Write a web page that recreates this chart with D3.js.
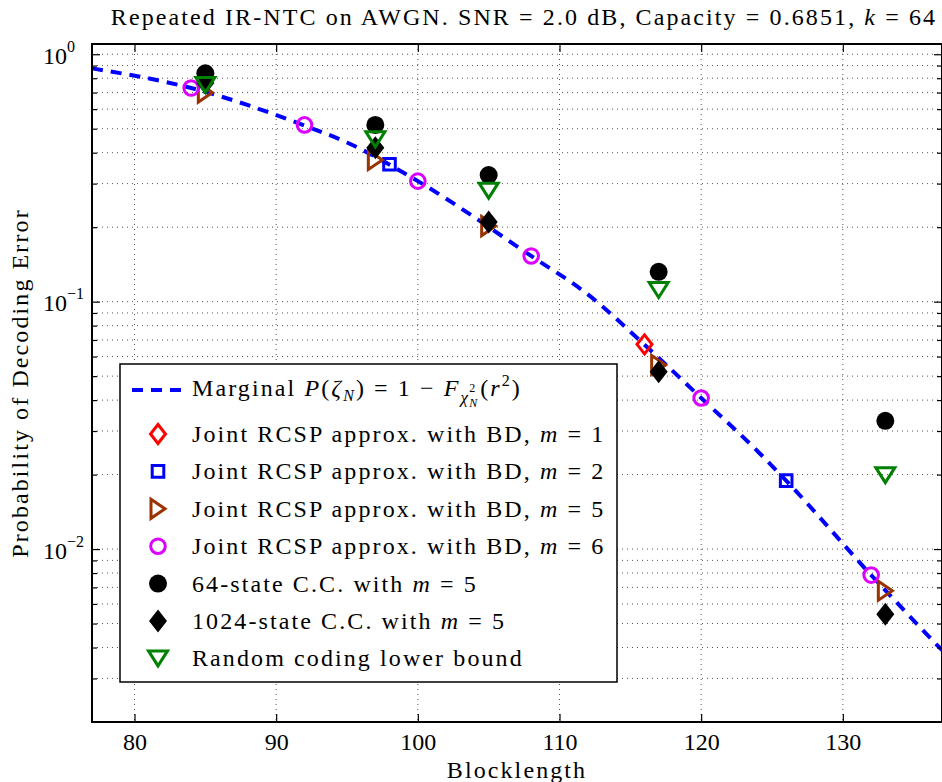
<!DOCTYPE html>
<html>
<head>
<meta charset="utf-8">
<script src="https://cdn.jsdelivr.net/npm/d3@7"></script>
<style>
  html, body { margin: 0; padding: 0; background: #fff; }
  svg text { font-family: "Liberation Serif", "Times New Roman", serif; fill: #000; }
  svg text.wide { letter-spacing: 2.1px; }
</style>
</head>
<body>
<div id="container"></div>
<script>
const width = 942, height = 782;
const plotL = 92, plotR = 942, plotT = 44, plotB = 722;

// --- Data ---
const xTicks = [80, 90, 100, 110, 120, 130];
const yMajor = [1, 0.1, 0.01];
const yLabels = ["0", "\u22121", "\u22122"];

// marginal curve
const curveX = [77, 84, 92, 95, 100, 108, 112, 116, 120, 124, 126, 132, 137];
const curveP = [0.877, 0.73, 0.515, 0.44, 0.307, 0.153, 0.107, 0.067, 0.0408, 0.0248, 0.0189, 0.00785, 0.0039];

// joint RCSP approx. with BD
const m1X = [116];
const m1P = [0.0672];
const m2X = [98, 126];
const m2P = [0.359, 0.0189];
const m5X = [85, 97, 105, 117, 133];
const m5P = [0.70, 0.374, 0.202, 0.0555, 0.00679];
const m6X = [84, 92, 100, 108, 120, 132];
const m6P = [0.73, 0.518, 0.307, 0.153, 0.0408, 0.00785];

// convolutional codes and bound
const cc64X = [85, 97, 105, 117, 133];
const cc64P = [0.837, 0.518, 0.325, 0.132, 0.033];
const cc1024X = [85, 97, 105, 117, 133];
const cc1024P = [0.765, 0.419, 0.21, 0.0521, 0.00545];
const rcX = [85, 97, 105, 117, 133];
const rcP = [0.751, 0.453, 0.281, 0.1114, 0.0199];

// --- SVG ---
const svg = d3.select("#container").append("svg")
  .attr("width", width).attr("height", height);

const x = d3.scaleLinear().domain([77, 137]).range([plotL, plotR]);
const y = d3.scaleLog().domain([0.002, 1.1]).range([plotB, plotT]);

// all log ticks inside the domain
const yAll = [];
for (const dec of [0.001, 0.01, 0.1, 1]) {
  for (let k = 1; k <= 9; k++) {
    const v = +(dec * k).toPrecision(3);
    if (v > 0.002 && v <= 1.1) yAll.push(v);
  }
}
const yMinor = yAll.filter((v) => !yMajor.includes(v));

// --- Grid (dotted) ---
const grid = svg.append("g").attr("stroke", "#555").attr("stroke-width", 1)
  .attr("stroke-dasharray", "1,4");
grid.selectAll(".gx").data(xTicks).join("line")
  .attr("x1", (d) => x(d)).attr("x2", (d) => x(d))
  .attr("y1", plotT).attr("y2", plotB);
grid.selectAll(".gy").data(yAll).join("line")
  .attr("x1", plotL).attr("x2", plotR)
  .attr("y1", (d) => y(d)).attr("y2", (d) => y(d));

// --- Marker shapes ---
const shapes = {
  circle: (r) => `M${-r},0A${r},${r} 0 1,0 ${r},0A${r},${r} 0 1,0 ${-r},0Z`,
  square: (s) => `M${-s},${-s}H${s}V${s}H${-s}Z`,
  diamond: (w, h) => `M0,${-h}L${w},0L0,${h}L${-w},0Z`,
  triDown: (w, h) => `M${-w},${-h}L${w},${-h}L0,${h}Z`,
  triRight: (w, h) => `M${-w},${-h}L${w},0L${-w},${h}Z`,
};

const series = [
  { xs: m1X, ps: m1P, d: shapes.diamond(7.5, 9.5), stroke: "#ff0000", fill: "none" },
  { xs: m2X, ps: m2P, d: shapes.square(5.8), stroke: "#0000ff", fill: "none" },
  { xs: m5X, ps: m5P, d: shapes.triRight(7, 9.5), stroke: "#993300", fill: "none" },
  { xs: m6X, ps: m6P, d: shapes.circle(7.3), stroke: "#dc00ff", fill: "none" },
  { xs: cc64X, ps: cc64P, d: shapes.circle(9), stroke: "none", fill: "#000" },
  { xs: cc1024X, ps: cc1024P, d: shapes.diamond(9, 11.5), stroke: "none", fill: "#000" },
  { xs: rcX, ps: rcP, d: shapes.triDown(9.5, 7.5), stroke: "#008000", fill: "none" },
];

// --- Marginal curve ---
svg.append("clipPath").attr("id", "plotclip")
  .append("rect").attr("x", plotL).attr("y", plotT)
  .attr("width", plotR - plotL).attr("height", plotB - plotT);

const line = d3.line().x((d) => x(d[0])).y((d) => y(d[1])).curve(d3.curveMonotoneX);
svg.append("path")
  .datum(d3.zip(curveX, curveP))
  .attr("clip-path", "url(#plotclip)")
  .attr("fill", "none")
  .attr("stroke", "#0000ff")
  .attr("stroke-width", 4)
  .attr("stroke-dasharray", "11,8")
  .attr("d", line);

// --- Markers ---
for (const s of series) {
  svg.append("g").selectAll("path").data(d3.zip(s.xs, s.ps)).join("path")
    .attr("transform", (d) => `translate(${x(d[0])},${y(d[1])})`)
    .attr("d", s.d)
    .attr("fill", s.fill)
    .attr("stroke", s.stroke)
    .attr("stroke-width", 3);
}

// --- Axes (inward ticks on all four sides) ---
function styleAxis(g) {
  g.select(".domain").remove();
  g.selectAll("line").attr("stroke", "#000").attr("stroke-width", 1.2);
}
svg.append("g").attr("transform", `translate(0,${plotB})`)
  .call(d3.axisBottom(x).tickValues(xTicks).tickSize(-8).tickPadding(11))
  .call(styleAxis)
  .call((g) => g.selectAll("text").style("font-size", "24px")
    .style("font-family", "Liberation Serif").attr("fill", "#000"));
svg.append("g").attr("transform", `translate(0,${plotT})`)
  .call(d3.axisTop(x).tickValues(xTicks).tickSize(-8).tickFormat(""))
  .call(styleAxis);
svg.append("g").attr("transform", `translate(${plotL},0)`)
  .call(d3.axisLeft(y).tickValues(yMajor).tickSize(-8).tickFormat(""))
  .call(styleAxis);
svg.append("g").attr("transform", `translate(${plotL},0)`)
  .call(d3.axisLeft(y).tickValues(yMinor).tickSize(-5).tickFormat(""))
  .call(styleAxis);
svg.append("g").attr("transform", `translate(${plotR},0)`)
  .call(d3.axisRight(y).tickValues(yMajor).tickSize(-8).tickFormat(""))
  .call(styleAxis);
svg.append("g").attr("transform", `translate(${plotR},0)`)
  .call(d3.axisRight(y).tickValues(yMinor).tickSize(-5).tickFormat(""))
  .call(styleAxis);

// frame
svg.append("rect")
  .attr("x", plotL).attr("y", plotT)
  .attr("width", plotR - plotL).attr("height", plotB - plotT)
  .attr("fill", "none").attr("stroke", "#000").attr("stroke-width", 2);

// y tick labels 10^k
yMajor.forEach((v, i) => {
  const t = svg.append("text")
    .attr("x", 43).attr("y", y(v) + 9.5)
    .style("font-size", "24px");
  t.append("tspan").text("10");
  t.append("tspan").attr("dy", -12).style("font-size", "16px").text(yLabels[i]);
});

// --- Axis labels and title ---
svg.append("text").attr("class", "wide")
  .attr("x", (plotL + plotR) / 2).attr("y", 778)
  .attr("text-anchor", "middle").style("font-size", "24px")
  .text("Blocklength");

svg.append("text").attr("class", "wide")
  .attr("transform", "rotate(-90)")
  .attr("x", -(plotT + plotB) / 2).attr("y", 28)
  .attr("text-anchor", "middle").style("font-size", "24px")
  .text("Probability of Decoding Error");

const title = svg.append("text").attr("class", "wide")
  .attr("x", 524).attr("y", 25)
  .attr("text-anchor", "middle").style("font-size", "24px");
title.append("tspan").text("Repeated IR-NTC on AWGN. SNR = 2.0 dB, Capacity = 0.6851, ");
title.append("tspan").style("font-style", "italic").text("k");
title.append("tspan").text(" = 64");

// --- Legend ---
const lg = svg.append("g");
lg.append("rect")
  .attr("x", 120).attr("y", 364)
  .attr("width", 497).attr("height", 318)
  .attr("fill", "#fff").attr("stroke", "#000").attr("stroke-width", 1.5);

const mx = 158, tx = 192;
// row 0: marginal curve
lg.append("line")
  .attr("x1", 132).attr("x2", 185).attr("y1", 390).attr("y2", 390)
  .attr("stroke", "#0000ff").attr("stroke-width", 4).attr("stroke-dasharray", "11,8");
const t0 = lg.append("text").attr("class", "wide")
  .attr("x", tx).attr("y", 396).style("font-size", "24px");
t0.append("tspan").text("Marginal ");
t0.append("tspan").style("font-style", "italic").text("P");
t0.append("tspan").text("(");
t0.append("tspan").style("font-style", "italic").text("\u03b6");
t0.append("tspan").attr("dy", 5).style("font-size", "16px").style("font-style", "italic").text("N");
t0.append("tspan").attr("dy", -5).text(") = 1 \u2212 ");
t0.append("tspan").style("font-style", "italic").text("F");
t0.append("tspan").attr("dy", 7).style("font-size", "17px").style("font-style", "italic").text("\u03c7");
// stacked script "2" over "N" after chi
const chiEnd = (() => { const b = t0.node().getBBox(); return b.x + b.width - 1; })();
const sup2 = lg.append("text").attr("x", chiEnd).attr("y", 392).style("font-size", "12px").text("2");
const subN = lg.append("text").attr("x", chiEnd).attr("y", 407)
  .style("font-size", "12px").style("font-style", "italic").text("N");
const scriptW = Math.max(sup2.node().getComputedTextLength(), subN.node().getComputedTextLength());
const t1 = lg.append("text").attr("class", "wide")
  .attr("x", chiEnd + scriptW + 3).attr("y", 396).style("font-size", "24px");
t1.append("tspan").text("(");
t1.append("tspan").style("font-style", "italic").text("r");
t1.append("tspan").attr("dy", -10).style("font-size", "16px").text("2");
t1.append("tspan").attr("dy", 10).text(")");

const legendRows = [
  { s: series[0], pre: "Joint RCSP approx. with BD, ", v: "1" },
  { s: series[1], pre: "Joint RCSP approx. with BD, ", v: "2" },
  { s: series[2], pre: "Joint RCSP approx. with BD, ", v: "5" },
  { s: series[3], pre: "Joint RCSP approx. with BD, ", v: "6" },
  { s: series[4], pre: "64-state C.C. with ", v: "5" },
  { s: series[5], pre: "1024-state C.C. with ", v: "5" },
  { s: series[6], pre: "Random coding lower bound", v: null },
];
legendRows.forEach((r, i) => {
  const cy = 434 + i * 37.4;
  lg.append("path")
    .attr("transform", `translate(${mx},${cy})`)
    .attr("d", r.s.d)
    .attr("fill", r.s.fill).attr("stroke", r.s.stroke).attr("stroke-width", 3);
  const t = lg.append("text").attr("class", "wide")
    .attr("x", tx).attr("y", cy + 8).style("font-size", "24px");
  t.append("tspan").text(r.pre);
  if (r.v !== null) {
    t.append("tspan").style("font-style", "italic").text("m");
    t.append("tspan").text(" = " + r.v);
  }
});
</script>
</body>
</html>
